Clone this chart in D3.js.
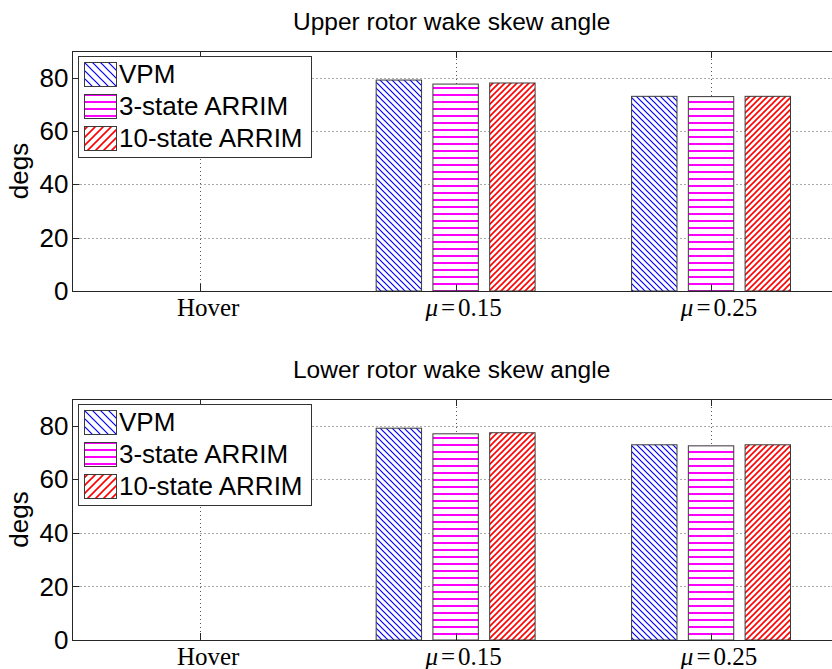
<!DOCTYPE html>
<html>
<head>
<meta charset="utf-8">
<script src="https://cdn.jsdelivr.net/npm/d3@7"></script>
<style>
  body { margin: 0; background: #fff; }
  svg { display: block; }
</style>
</head>
<body>
<svg id="fig" width="832" height="669"></svg>
<script>
// Flight conditions (x categories) and the three wake models compared
const categories = ["Hover", "μ=0.15", "μ=0.25"];
const seriesNames = ["VPM", "3-state ARRIM", "10-state ARRIM"];

// Wake skew angle, degrees — upper rotor
const upperVPM = [0, 79.1, 73.0];
const upperARRIM3 = [0, 77.6, 72.9];
const upperARRIM10 = [0, 78.0, 73.0];

// Wake skew angle, degrees — lower rotor
const lowerVPM = [0, 79.1, 72.9];
const lowerARRIM3 = [0, 77.0, 72.5];
const lowerARRIM10 = [0, 77.4, 72.9];

const yTicks = [0, 20, 40, 60, 80];

const svg = d3.select("#fig");
const defs = svg.append("defs");

const SANS = "'Liberation Sans', Arial, Helvetica, sans-serif";
const SERIF = "'Liberation Serif', 'Times New Roman', serif";

// Diagonal "\" hatch tile; mirrored horizontally it becomes "/"
function diagHatch(id, color, s, mirror, width) {
  const p = defs.append("pattern")
    .attr("id", id).attr("patternUnits", "userSpaceOnUse")
    .attr("width", s).attr("height", s);
  if (mirror) p.attr("patternTransform", "scale(-1,1)");
  p.append("rect").attr("width", s).attr("height", s).attr("fill", "#fff");
  const d = `M-1,-1L${s + 1},${s + 1}M${-1 - s},-1L1,${s + 1}M${s - 1},-1L${2 * s + 1},${s + 1}`;
  p.append("path").attr("d", d).attr("stroke", color)
    .attr("stroke-width", width).attr("fill", "none");
}
// Horizontal stripe tile
function stripeHatch(id, color, s, thick) {
  const p = defs.append("pattern")
    .attr("id", id).attr("patternUnits", "userSpaceOnUse")
    .attr("width", 8).attr("height", s);
  p.append("rect").attr("width", 8).attr("height", s).attr("fill", "#fff");
  p.append("rect").attr("y", Math.floor(s / 2)).attr("width", 8).attr("height", thick)
    .attr("fill", color);
}
diagHatch("barVPM", "#0000ff", 6, false, 1.2);
stripeHatch("barA3", "#ff00ff", 7, 2);
diagHatch("barA10", "#ff0000", 6, true, 1.6);
diagHatch("legVPM", "#0000ff", 8, false, 1.2);
stripeHatch("legA3", "#ff00ff", 7, 2);
diagHatch("legA10", "#ff0000", 8, true, 1.6);

const barFills = ["url(#barVPM)", "url(#barA3)", "url(#barA10)"];
const legFills = ["url(#legVPM)", "url(#legA3)", "url(#legA10)"];

// Grouped bar layout (group width 2/3 of a category, bars 80% of their slot)
const nSeries = seriesNames.length;
const groupWidth = Math.min(0.8, nSeries / (nSeries + 1.5));
const slot = groupWidth / nSeries;
const barW = slot * 0.8;

function panel(top, bottom, title, seriesValues) {
  const x = d3.scaleLinear().domain([0.5, categories.length + 0.5]).range([72.5, 838.75]);
  const y = d3.scaleLinear().domain([0, 90]).range([bottom, top]);
  const g = svg.append("g");
  const left = x.range()[0], right = x.range()[1];

  // dotted grid
  const grid = g.append("g").attr("stroke", "#555").attr("stroke-width", 1)
    .attr("stroke-dasharray", "1,3");
  grid.selectAll(".gy").data(yTicks.filter(t => t > 0)).join("line")
    .attr("x1", left).attr("x2", right)
    .attr("y1", d => Math.round(y(d)) + 0.5).attr("y2", d => Math.round(y(d)) + 0.5);
  grid.selectAll(".gx").data(categories.map((c, i) => i + 1)).join("line")
    .attr("y1", top).attr("y2", bottom)
    .attr("x1", d => Math.round(x(d)) + 0.5).attr("x2", d => Math.round(x(d)) + 0.5);

  // bars
  const bars = [];
  seriesValues.forEach((vals, j) => {
    vals.forEach((v, i) => {
      if (v > 0) bars.push({ i, j, v });
    });
  });
  g.append("g").selectAll("rect").data(bars).join("rect")
    .attr("x", d => x(d.i + 1 + (d.j - (nSeries - 1) / 2) * slot - barW / 2))
    .attr("width", d => x(barW) - x(0))
    .attr("y", d => y(d.v))
    .attr("height", d => y(0) - y(d.v))
    .attr("fill", d => barFills[d.j])
    .attr("stroke", "#3a3a3a").attr("stroke-width", 1);

  // axes box with inward ticks
  const ax = g.append("g").attr("stroke", "#262626").attr("stroke-width", 1).attr("fill", "none");
  ax.append("rect").attr("x", left).attr("y", top + 0.5)
    .attr("width", right - left).attr("height", bottom - top);
  const tl = 7;
  categories.forEach((c, i) => {
    const xx = Math.round(x(i + 1)) + 0.5;
    ax.append("line").attr("x1", xx).attr("x2", xx).attr("y1", bottom).attr("y2", bottom - tl);
    ax.append("line").attr("x1", xx).attr("x2", xx).attr("y1", top).attr("y2", top + tl);
  });
  yTicks.forEach(t => {
    const yy = Math.round(y(t)) + 0.5;
    ax.append("line").attr("x1", left).attr("x2", left + tl).attr("y1", yy).attr("y2", yy);
    ax.append("line").attr("x1", right).attr("x2", right - tl).attr("y1", yy).attr("y2", yy);
  });

  // y tick labels
  g.append("g").selectAll("text").data(yTicks).join("text")
    .attr("x", left - 4).attr("y", d => y(d)).attr("dy", "0.35em")
    .attr("text-anchor", "end")
    .attr("font-family", SANS).attr("font-size", 26).attr("fill", "#000")
    .text(d => d);

  // x tick labels (math-style μ)
  const xl = g.append("g").attr("font-family", SERIF).attr("font-size", 25).attr("fill", "#000");
  categories.forEach((c, i) => {
    const t = xl.append("text").attr("x", x(i + 1) + 8).attr("y", bottom + 25)
      .attr("text-anchor", "middle");
    if (c.startsWith("μ")) {
      const parts = c.split("=");
      t.append("tspan").attr("font-style", "italic").text(parts[0]);
      t.append("tspan").attr("dx", 3).text("=");
      t.append("tspan").attr("dx", 3).text(parts[1]);
    } else {
      t.text(c);
    }
  });

  // y axis title
  g.append("text")
    .attr("transform", `translate(28,${(top + bottom) / 2}) rotate(-90)`)
    .attr("text-anchor", "middle")
    .attr("font-family", SANS).attr("font-size", 26).attr("fill", "#000")
    .text("degs");

  // panel title
  g.append("text")
    .attr("x", (left + right) / 2 - 4).attr("y", top - 21)
    .attr("text-anchor", "middle")
    .attr("font-family", SANS).attr("font-size", 24.5).attr("fill", "#000")
    .text(title);

  // legend
  const lg = g.append("g").attr("transform", `translate(78,${top + 5})`);
  lg.append("rect").attr("x", 0.5).attr("y", 0.5).attr("width", 233).attr("height", 101)
    .attr("fill", "#fff").attr("stroke", "#333").attr("stroke-width", 1);
  seriesNames.forEach((name, k) => {
    lg.append("rect").attr("x", 6.5).attr("y", 6.5 + k * 32).attr("width", 32).attr("height", 24)
      .attr("fill", legFills[k]).attr("stroke", "#3a3a3a").attr("stroke-width", 1);
    lg.append("text").attr("x", 41).attr("y", 27 + k * 32)
      .attr("font-family", SANS).attr("font-size", 26).attr("fill", "#000")
      .text(name);
  });
}

panel(51, 291, "Upper rotor wake skew angle", [upperVPM, upperARRIM3, upperARRIM10]);
panel(399, 640, "Lower rotor wake skew angle", [lowerVPM, lowerARRIM3, lowerARRIM10]);
</script>
</body>
</html>
